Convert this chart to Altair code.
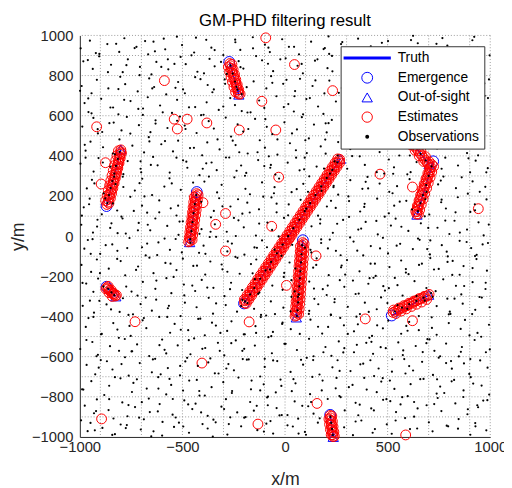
import altair as alt
import pandas as pd
import numpy as np

FONT = "Liberation Sans, Arial, Helvetica, sans-serif"
KINDS = ["Truth", "Emergence", "Out-of-sight", "Estimates", "Observations"]

# ---- true target tracks (start, end) ----
truth_tracks = {
    "A": [(-270, 865), (-225, 705)],
    "B": [(-870, 150), (-800, 432)],
    "C": [(-430, 220), (-465, -30)],
    "D": [(-870, -255), (-825, -300)],
    "E": [(-200, -335), (270, 385)],
    "F": [(87, -20), (55, -405)],
    "G": [(220, -890), (235, -1000)],
    "H": [(520, -395), (700, -295)],
    "I1": [(440, 700), (702, 358)],
    "I2": [(722, 373), (643, 107)],
}
emergence = [(-272, 868), (-870, 150), (-430, 220), (-870, -252), (-200, -335),
             (87, -20), (220, -890), (520, -395), (722, 373), (440, 700)]
out_of_sight = [(-225, 705), (-800, 432), (-465, -30), (-825, -300), (270, 385),
                (55, -405), (235, -1000), (700, -292), (702, 358), (643, 107)]

# ---- filter estimates ----
est_A = [(-269,860),(-266,849),(-262,836),(-259,824),(-256,812),(-251,800),(-249,789),(-245,776),
         (-241,764),(-238,752),(-234,740),(-231,728),(-228,716),(-226,708),
         (-259,856),(-276,843),(-253,830),(-270,818),(-246,805),(-263,793),(-240,780),(-256,768),
         (-233,755),(-249,743),(-226,730),(-241,718),(-219,708)]
est_B = [(-868,158),(-863,170),(-861,183),(-856,195),(-855,208),(-850,220),(-846,233),(-845,246),
         (-840,258),(-837,270),(-835,283),(-830,295),(-828,308),(-824,320),(-822,333),(-818,345),
         (-815,357),(-812,370),(-810,383),(-806,395),(-804,408),(-801,420),(-800,430),
         (-858,164),(-874,177),(-851,189),(-867,202),(-845,214),(-861,227),(-839,239),(-855,252),
         (-833,264),(-849,277),(-827,289),(-843,302),(-821,314),(-837,327),(-815,339),(-831,352),
         (-809,364),(-825,377),(-803,389),(-819,402),(-797,414),(-812,425)]
est_C = [(-431,212),(-434,200),(-434,187),(-437,175),(-438,162),(-441,150),(-441,137),(-444,125),
         (-446,112),(-447,100),(-449,87),(-450,75),(-452,62),(-453,50),(-455,37),(-457,25),
         (-458,12),(-460,0),(-461,-12),(-463,-24),
         (-424,206),(-442,194),(-427,181),(-445,169),(-430,156),(-448,144),(-433,131),(-451,119),
         (-436,106),(-454,94),(-440,81),(-458,69),(-443,56),(-461,44),(-446,31),(-464,19),
         (-450,6),(-467,-6),(-453,-18),(-470,-28)]
est_D = [(-868,-256),(-862,-262),(-856,-269),(-850,-275),(-844,-281),(-838,-287),(-832,-293),(-827,-298),
         (-862,-250),(-873,-262),(-848,-268),(-858,-281),(-834,-285),(-842,-300),(-822,-294)]
est_E = [(-197,-333),(-195,-322),(-184,-316),(-183,-303),(-171,-296),(-170,-283),(-158,-276),(-157,-263),
         (-145,-256),(-144,-243),(-132,-236),(-131,-223),(-119,-216),(-118,-203),(-106,-196),(-105,-183),
         (-93,-176),(-92,-163),(-80,-156),(-79,-143),(-67,-136),(-66,-123),(-54,-116),(-53,-103),
         (-41,-96),(-40,-83),(-28,-76),(-27,-63),(-15,-56),(-14,-43),(-2,-36),(0,-23),(11,-16),(6,-13),
         (24,-6),(19,7),(31,14),(32,27),(44,34),(45,47),(57,54),(58,67),(70,74),(71,87),(83,94),
         (84,107),(96,114),(97,127),(109,134),(110,147),(122,154),(123,167),(135,174),(136,187),
         (148,194),(149,207),(161,214),(162,227),(174,234),(175,247),(187,254),(188,267),(200,274),
         (201,287),(213,294),(214,307),(226,314),(227,327),(239,334),(240,347),(252,354),(253,367),
         (265,374),(266,383),
         (-189,-335),(-198,-315),(-176,-315),(-185,-295),(-163,-295),(-172,-275),(-150,-275),(-159,-255),
         (-137,-255),(-146,-235),(-124,-235),(-133,-215),(-111,-215),(-120,-195),(-98,-195),(-107,-175),
         (-85,-175),(-94,-155),(-72,-155),(-81,-135),(-59,-135),(-68,-115),(-46,-115),(-55,-95),
         (-33,-95),(-42,-75),(-20,-75),(-29,-55),(-7,-55),(-16,-35),(6,-35),(-3,-15),(19,-15),(10,5),
         (32,5),(23,25),(45,25),(36,45),(58,45),(49,65),(71,65),(62,85),(84,85),(75,105),(97,105),
         (88,125),(110,125),(101,145),(123,145),(114,165),(136,165),(127,185),(149,185),(140,205),
         (162,205),(153,225),(175,225),(166,245),(188,245),(179,265),(201,265),(192,285),(214,285),
         (205,305),(227,305),(218,325),(240,325),(231,345),(253,345),(244,365),(266,365),(257,385)]
est_F = [(86,-32),(83,-44),(84,-57),(81,-69),(82,-82),(79,-94),(80,-107),(77,-119),(78,-132),(75,-144),
         (76,-157),(73,-169),(74,-182),(71,-194),(72,-207),(69,-219),(70,-232),(67,-244),(68,-257),
         (65,-269),(66,-282),(63,-294),(64,-307),(61,-319),(62,-332),(59,-344),(60,-357),(57,-369),
         (58,-382),(56,-394),
         (93,-38),(75,-50),(92,-63),(74,-75),(91,-88),(72,-100),(89,-113),(70,-125),(87,-138),(68,-150),
         (85,-163),(66,-175),(83,-188),(64,-200),(81,-213),(62,-225),(79,-238),(60,-250),(77,-263),
         (58,-275),(75,-288),(56,-300),(73,-313),(54,-325),(71,-338),(52,-350),(69,-363),(50,-375),
         (66,-388),(49,-398)]
est_G = [(220,-893),(222,-905),(223,-917),(225,-929),(226,-941),(228,-953),(229,-965),(231,-977),
         (232,-989),(234,-998),
         (228,-896),(214,-911),(231,-923),(217,-937),(234,-949),(221,-963),(238,-975),(225,-989),(240,-996)]
est_H = [(527,-380),(538,-374),(549,-368),(560,-362),(572,-357),(583,-351),(594,-345),(605,-339),
         (617,-334),(628,-328),(639,-322),(650,-317),(662,-311),(673,-306),(684,-301),(695,-297),
         (529,-368),(541,-385),(555,-358),(566,-373),(579,-346),(591,-362),(604,-334),(616,-350),
         (628,-323),(641,-339),(653,-311),(666,-328),(678,-300),(690,-315),(702,-290)]
est_I1 = [(560,540),(575,521),(590,502),(602,487),(612,474),(622,461),(631,449),(640,437),(649,425),
          (658,413),(667,401),(676,389),(685,377),(693,367),(700,358),
          (575,540),(568,515),(597,510),(593,482),(620,480),(614,455),(641,452),(634,428),(662,425),
          (654,400),(684,396),(676,372),(703,370)]
est_I2 = [(716,356),(711,343),(707,330),(703,317),(699,304),(694,291),(690,278),(686,265),(682,252),
          (678,239),(674,226),(669,213),(665,200),(661,187),(657,174),(653,161),(649,148),(645,135),
          (643,122),(642,110),
          (724,347),(705,340),(715,320),(696,313),(707,293),(687,286),(698,266),(678,259),(690,239),
          (670,232),(681,212),(661,205),(673,185),(653,178),(664,158),(645,151),(656,131),(637,124),(650,110)]
est_false = [(-94,988),(46,855),(-588,775),(-918,545),(-540,583),(-477,583),(-525,534),(-381,564),
             (-223,529),(-113,672),(-45,529),(-875,366),(-896,260),(-400,167),(-290,113),(-338,59),
             (-290,-74),(-31,294),(-65,49),(7,-245),(-175,-427),(-731,-426),(-405,-632),(-132,-936),
             (-894,-910),(156,-833),(588,-990),(391,-412),(621,-421),(151,-98),(463,309),(621,245),
             (942,137),(232,725)]

# ---- observations: detections on the tracks ----
track_obs = [(-195,-325),(-170,-290),(-150,-258),(-121,-212),(-95,-170),(-68,-128),(-40,-85),(-12,-42),
             (15,0),(40,40),(70,82),(96,125),(122,165),(148,205),(176,248),(203,290),(230,330),(255,368),
             (83,-45),(80,-90),(78,-130),(75,-175),(72,-210),(70,-250),(67,-290),(64,-330),(61,-370),(58,-398),
             (-866,165),(-858,205),(-850,240),(-842,275),(-832,312),(-824,350),(-815,385),(-806,420),
             (-433,205),(-440,160),(-446,115),(-451,70),(-456,25),(-462,-15),
             (-266,850),(-255,810),(-244,770),(-232,730),(-862,-262),(-846,-280),(-832,-294),
             (221,-900),(225,-930),(229,-960),(233,-990),(535,-375),(570,-356),(605,-338),(640,-322),(675,-306),
             (714,348),(700,300),(688,255),(672,205),(660,165),(648,125),(632,446),(660,410),(685,377)]

# ---- observations: clutter (read row by row) ----
clutter = [
(-994,-917),(-962,-971),(-948,-930),(-890,-955),(-836,-908),(-829,-986),(-771,-941),(-703,-963),(-688,-912),(-652,-997),(-597,-925),(-541,-950),(-533,-903),(-468,-979),(-402,-936),(-377,-958),(-349,-914),(-281,-988),(-214,-947),(-199,-904),(-135,-966),(-71,-921),(-58,-983),(12,-942),(64,-909),(97,-975),(160,-929),(288,-952),(331,-991),(372,-918),(438,-961),(496,-937),(520,-984),(585,-906),(644,-958),(701,-927),(719,-972),(788,-944),(846,-911),(903,-989),(927,-931),(981,-967),
(-976,-844),(-931,-882),(-917,-813),(-860,-866),(-793,-828),(-768,-897),(-731,-851),(-664,-809),(-620,-873),(-611,-836),(-548,-889),(-491,-818),(-452,-861),(-436,-834),(-377,-895),(-310,-849),(-288,-812),(-233,-878),(-170,-826),(-152,-869),(-87,-803),(-41,-856),(-16,-891),(47,-823),(113,-847),(139,-884),(208,-811),(291,-868),(344,-830),(357,-892),(420,-858),(478,-815),(541,-876),(563,-838),(629,-899),(690,-842),(744,-806),(762,-871),(830,-833),(889,-887),(941,-852),(966,-819),
(-989,-763),(-944,-722),(-881,-791),(-857,-745),(-802,-708),(-746,-776),(-739,-731),(-674,-759),(-618,-702),(-579,-788),(-555,-741),(-497,-769),(-430,-716),(-417,-794),(-358,-752),(-301,-727),(-259,-781),(-227,-704),(-166,-763),(-104,-738),(-83,-799),(-22,-714),(33,-772),(51,-733),(122,-787),(183,-719),(247,-758),(265,-796),(329,-741),(386,-706),(447,-777),(469,-724),(533,-761),(598,-797),(612,-737),(675,-711),(739,-784),(756,-749),(812,-723),(870,-768),(905,-702),(958,-744),(995,-789),
(-967,-641),(-925,-688),(-898,-617),(-841,-664),(-780,-603),(-762,-695),(-708,-632),(-649,-678),(-633,-611),(-571,-657),(-512,-693),(-486,-624),(-425,-646),(-364,-609),(-342,-683),(-276,-637),(-249,-668),(-186,-615),(-121,-699),(-99,-651),(-38,-622),(27,-676),(88,-640),(106,-606),(168,-689),(231,-653),(256,-618),(319,-672),(381,-635),(434,-697),(456,-659),(522,-613),(587,-684),(605,-647),(668,-626),(721,-691),(749,-605),(813,-660),(872,-634),(898,-686),(951,-619),(987,-655),
(-998,-562),(-939,-527),(-912,-591),(-853,-548),(-810,-506),(-748,-574),(-721,-539),(-662,-597),(-599,-515),(-587,-566),(-523,-544),(-461,-588),(-443,-509),(-389,-557),(-327,-531),(-296,-594),(-240,-519),(-208,-571),(-147,-545),(-81,-503),(-64,-583),(-3,-536),(58,-567),(117,-511),(139,-598),(197,-552),(262,-524),(284,-579),(350,-541),(411,-506),(429,-586),(491,-558),(552,-529),(574,-592),(637,-547),(694,-513),(728,-571),(785,-535),(847,-599),(862,-552),(924,-517),(979,-578),
(-971,-452),(-958,-408),(-893,-487),(-837,-433),(-817,-465),(-752,-497),(-694,-419),(-676,-458),(-613,-402),(-560,-481),(-538,-437),(-472,-468),(-413,-411),(-391,-494),(-337,-445),(-282,-472),(-261,-424),(-196,-489),(-144,-448),(-118,-403),(-59,-477),(-12,-431),(28,-463),(124,-416),(181,-485),(210,-452),(269,-407),(336,-474),(355,-439),(424,-497),(477,-459),(503,-421),(566,-486),(591,-447),(652,-468),(715,-404),(739,-491),(798,-433),(856,-462),(877,-417),(938,-482),(994,-441),
(-986,-347),(-931,-381),(-905,-322),(-848,-365),(-790,-309),(-763,-392),(-704,-338),(-649,-371),(-628,-316),(-571,-359),(-509,-398),(-488,-331),(-431,-354),(-372,-307),(-351,-386),(-289,-343),(-234,-376),(-208,-318),(-151,-362),(-92,-395),(-69,-325),(-8,-356),(31,-302),(118,-372),(162,-339),(223,-391),(242,-313),(306,-352),(365,-388),(389,-331),(447,-364),(468,-305),(596,-362),(652,-398),(739,-348),(791,-311),(803,-376),(866,-336),(927,-367),(948,-303),(997,-354),
(-969,-236),(-934,-277),(-911,-211),(-774,-251),(-719,-296),(-693,-228),(-632,-262),(-578,-209),(-554,-284),(-493,-241),(-438,-273),(-406,-218),(-349,-257),(-295,-299),(-263,-232),(-209,-268),(-147,-214),(-125,-281),(-62,-246),(-6,-203),(47,-275),(118,-226),(141,-261),(203,-293),(267,-219),(289,-252),(344,-288),(406,-237),(431,-207),(487,-271),(548,-244),(573,-296),(631,-224),(689,-258),(712,-283),(771,-215),(833,-247),(859,-290),(914,-229),(977,-263),
(-992,-143),(-945,-178),(-917,-116),(-859,-162),(-801,-124),(-779,-195),(-716,-151),(-661,-107),(-641,-184),(-583,-133),(-529,-169),(-498,-112),(-447,-148),(-389,-191),(-364,-126),(-305,-165),(-242,-103),(-221,-187),(-166,-139),(-140,-116),(-4,-183),(22,-131),(137,-157),(154,-111),(213,-194),(276,-146),(302,-119),(363,-175),(417,-137),(442,-198),(509,-154),(566,-121),(589,-181),(653,-143),(708,-109),(726,-166),(792,-128),(851,-192),(870,-149),(933,-114),(984,-172),
(-978,-62),(-961,-19),(-901,-88),(-842,-41),(-817,-73),(-758,-9),(-697,-55),(-679,-96),(-617,-31),(-561,-68),(-533,-14),(-419,-83),(-397,-47),(-336,-3),(-281,-76),(-259,-37),(-198,-92),(-137,-58),(-112,-21),(-51,-67),(-17,-98),(35,-43),(128,-81),(176,-16),(209,-61),(271,-95),(334,-27),(352,-72),(418,-49),(477,-8),(502,-86),(561,-38),(623,-64),(648,-12),(706,-91),(764,-45),(788,-77),(851,-23),(907,-59),(926,-99),(989,-34),
(-993,57),(-936,18),(-914,82),(-852,41),(-797,97),(-776,13),(-713,66),(-657,29),(-632,88),(-574,51),(-519,7),(-498,74),(-407,35),(-361,94),(-342,59),(-284,22),(-227,79),(-201,44),(-142,3),(-86,68),(-63,31),(-5,91),(129,49),(172,84),(233,17),(254,62),(312,96),(371,38),(393,71),(452,9),(516,53),(539,87),(601,26),(662,64),(681,99),(743,42),(801,11),(826,77),(887,33),(943,69),(968,4),
(-981,144),(-952,187),(-893,109),(-839,163),(-818,128),(-754,196),(-697,152),(-672,117),(-613,178),(-557,139),(-529,103),(-408,171),(-347,126),(-321,189),(-266,148),(-208,112),(-184,167),(-127,134),(-66,193),(-41,119),(18,158),(76,181),(103,137),(161,102),(224,176),(247,141),(309,198),(366,123),(388,161),(449,187),(506,114),(532,152),(591,176),(619,133),(703,108),(761,169),(784,138),(842,194),(903,121),(925,159),(982,183),
(-966,238),(-941,281),(-884,213),(-826,259),(-791,296),(-732,227),(-709,264),(-648,205),(-588,247),(-563,288),(-508,231),(-393,272),(-331,218),(-309,256),(-247,293),(-193,236),(-171,209),(-112,268),(-51,244),(-29,287),(32,219),(89,261),(118,298),(178,226),(237,251),(259,207),(318,279),(377,236),(402,295),(461,262),(524,214),(546,249),(607,284),(689,221),(746,258),(772,297),(833,239),(891,212),(914,273),(976,246),
(-997,361),(-933,322),(-909,389),(-851,347),(-788,309),(-767,374),(-704,336),(-643,395),(-621,353),(-562,317),(-497,378),(-476,341),(-417,304),(-358,367),(-333,329),(-272,392),(-214,352),(-189,315),(-131,379),(-72,341),(-47,307),(13,366),(71,328),(96,391),(154,347),(219,312),(241,373),(303,336),(364,398),(389,355),(447,319),(506,382),(531,343),(596,308),(641,369),(763,336),(781,391),(843,352),(902,318),(929,376),(988,339),
(-972,426),(-948,471),(-887,443),(-829,408),(-807,482),(-744,451),(-687,417),(-664,493),(-603,458),(-546,422),(-521,476),(-463,439),(-404,403),(-379,467),(-319,432),(-263,496),(-241,454),(-182,412),(-123,478),(-98,441),(-37,406),(24,463),(53,428),(116,487),(174,447),(198,411),(259,469),(318,434),(341,498),(403,457),(461,419),(487,482),(549,445),(608,402),(682,471),(741,437),(768,492),(826,455),(887,414),(909,479),(968,442),
(-988,546),(-934,589),(-912,512),(-856,563),(-797,527),(-771,594),(-712,553),(-656,518),(-631,577),(-573,539),(-512,596),(-489,551),(-431,514),(-372,573),(-347,536),(-289,591),(-231,557),(-204,521),(-146,584),(-89,545),(-62,508),(-3,567),(58,532),(82,593),(141,556),(203,517),(228,579),(287,544),(349,503),(372,568),(433,531),(492,592),(517,549),(578,513),(637,574),(662,538),(723,597),(781,556),(806,519),(868,583),(929,542),(951,505),
(-977,663),(-958,618),(-896,684),(-838,641),(-812,607),(-753,673),(-692,636),(-669,692),(-609,651),(-551,614),(-526,679),(-468,642),(-409,603),(-382,667),(-323,629),(-267,688),(-244,653),(-183,616),(-126,676),(-101,639),(-42,697),(16,658),(43,621),(104,683),(161,646),(187,609),(248,671),(306,634),(329,693),(391,657),(452,618),(476,681),(538,645),(597,606),(621,668),(682,631),(743,689),(767,652),(828,613),(886,675),(911,638),(973,699),
(-991,748),(-943,712),(-917,779),(-861,736),(-803,794),(-779,757),(-718,721),(-662,786),(-638,743),(-579,706),(-521,768),(-497,731),(-438,792),(-377,753),(-354,717),(-294,781),(-237,744),(-211,708),(-153,771),(-91,736),(-68,797),(-9,759),(49,723),(73,784),(134,748),(192,711),(216,775),(277,738),(336,796),(359,762),(421,727),(481,789),(503,751),(566,714),(627,778),(649,741),(711,704),(769,766),(792,729),(853,791),(914,754),(937,718),(994,781),
(-983,871),(-937,833),(-906,896),(-848,854),(-791,817),(-766,881),(-707,843),(-651,806),(-627,868),(-569,831),(-509,893),(-484,857),(-427,819),(-368,883),(-343,846),(-284,808),(-226,872),(-203,835),(-141,897),(-83,859),(-58,822),(3,886),(61,849),(87,811),(146,874),(207,837),(229,898),(292,862),(351,824),(373,887),(436,851),(494,813),(518,876),(579,839),(641,801),(663,864),(724,828),(783,889),(806,852),(867,815),(928,878),(953,841),
(-996,936),(-951,974),(-922,912),(-866,957),(-808,918),(-783,986),(-724,943),(-667,906),(-641,969),(-584,931),(-527,994),(-502,952),(-443,915),(-384,978),(-359,939),(-301,902),(-242,966),(-218,928),(-157,991),(-98,954),(-74,917),(-14,981),(44,943),(68,906),(127,969),(188,932),(212,995),(273,957),(332,921),(356,984),(418,946),(477,909),(502,972),(563,935),(624,998),(647,961),(708,924),(767,987),(791,949),(852,913),(913,976),(938,938),(997,901),
]

# ---- observations: clutter (read column by column) ----
clutter_cols = [
(-943,612),(-987,-233),(-916,48),(-961,877),(-908,-655),(-972,391),(-934,-402),(-955,159),(-921,-871),(-999,724),(-947,-88),(-913,533),(-968,-517),(-929,263),(-983,-764),(-905,908),(-951,-321),(-938,-15),(-976,455),(-919,-598),(-990,102),(-927,-967),(-959,686),(-902,-184),
(-874,-45),(-812,733),(-857,-812),(-833,296),(-891,519),(-806,-377),(-846,64),(-868,-623),(-823,958),(-885,-251),(-839,412),(-801,-938),(-863,817),(-818,-113),(-897,-489),(-851,641),(-829,-702),(-876,188),(-809,-571),(-842,-990),(-888,367),(-816,15),(-870,-340),(-835,566),
(-748,-276),(-792,88),(-715,634),(-763,-841),(-704,373),(-781,-512),(-733,937),(-769,-59),(-722,-713),(-788,245),(-741,-389),(-709,802),(-776,-956),(-754,511),(-726,-168),(-797,-637),(-737,126),(-711,-904),(-784,679),(-758,-447),(-717,29),(-773,852),(-745,-573),(-701,318),
(-661,472),(-698,-827),(-623,-94),(-685,198),(-612,-543),(-647,736),(-679,-306),(-634,921),(-606,-688),(-669,57),(-641,-972),(-693,604),(-627,-221),(-654,355),(-617,-759),(-688,-408),(-603,843),(-672,-37),(-631,561),(-659,-876),(-696,286),(-644,-614),(-613,119),(-682,972),
(-563,-711),(-529,391),(-587,-12),(-508,-466),(-571,881),(-543,-203),(-596,617),(-517,-929),(-552,263),(-579,-584),(-534,739),(-503,-81),(-566,-347),(-591,984),(-521,152),(-547,-811),(-585,474),(-511,-646),(-558,-137),(-539,858),(-599,-993),(-526,575),(-574,-402),(-514,73),
(-472,-838),(-438,643),(-491,-295),(-417,12),(-456,901),(-403,-561),(-481,371),(-429,-147),(-467,-719),(-412,782),(-496,-948),(-448,267),(-423,-412),(-485,534),(-409,-878),(-461,-33),(-434,989),(-477,-606),(-401,336),(-452,-246),(-488,712),(-418,-771),(-444,440),(-469,-518),
(-371,297),(-324,-684),(-388,-88),(-312,868),(-356,-431),(-397,605),(-338,-927),(-305,149),(-379,-256),(-347,731),(-318,-571),(-363,22),(-391,-794),(-329,482),(-309,-141),(-352,-998),(-384,363),(-336,-335),(-301,646),(-374,-629),(-343,927),(-315,-482),(-367,-4),(-395,811),
(-267,-902),(-223,418),(-281,-177),(-206,-612),(-249,91),(-292,759),(-214,-348),(-258,-771),(-236,326),(-279,-26),(-201,-489),(-243,979),(-286,-659),(-229,184),(-268,-264),(-211,623),(-297,-861),(-255,476),(-232,-108),(-274,-936),(-217,842),(-262,-533),(-240,1),(-288,392),
(-168,617),(-121,-768),(-183,-333),(-106,197),(-149,-56),(-192,-901),(-134,418),(-177,-614),(-112,876),(-158,-185),(-195,301),(-141,-482),(-103,-973),(-187,742),(-126,63),(-163,-719),(-117,-392),(-179,534),(-138,-845),(-101,349),(-156,936),(-199,-561),(-131,-287),(-172,118),
(-67,-498),(-23,881),(-84,-842),(-41,162),(-96,583),(-12,-267),(-58,-619),(-79,398),(-31,-1),(-91,-934),(-6,643),(-49,-388),(-73,-166),(-18,-746),(-62,764),(-88,-55),(-37,482),(-99,-611),(-27,-893),(-54,214),(-81,939),(-14,-437),(-45,-778),(-69,355),
(34,512),(78,-616),(12,-891),(93,333),(51,-161),(7,779),(66,-983),(27,-374),(88,607),(41,-712),(97,-57),(19,943),(72,-487),(57,234),(3,-536),(84,-845),(46,697),(31,-219),(99,478),(63,-302),(15,104),(81,858),(38,-948),(54,391),
(143,-312),(187,-578),(121,688),(169,-907),(106,414),(152,-143),(194,937),(133,-701),(176,-34),(112,221),(161,-451),(198,562),(127,-826),(184,-264),(148,776),(102,-989),(171,63),(137,-617),(190,337),(116,-387),(158,881),(179,-768),(124,-68),(196,481),
(248,-73),(212,563),(287,-444),(231,821),(266,-671),(204,148),(293,-191),(257,402),(226,-596),(279,967),(241,-329),(297,669),(218,-17),(271,-802),(236,244),(289,-558),(208,-246),(262,714),(224,-392),(283,81),(251,-706),(295,489),(215,908),(273,-155),
(367,-638),(312,175),(344,-923),(389,469),(331,-221),(375,711),(306,-487),(357,33),(398,-764),(322,908),(381,-96),(348,-401),(303,612),(364,-839),(393,271),(336,-578),(317,-6),(372,826),(359,-286),(311,-752),(386,146),(340,654),(396,-531),(327,399),
(412,-209),(468,744),(433,-868),(486,97),(421,-526),(457,451),(499,-333),(441,888),(476,-707),(405,238),(463,-61),(491,624),(427,-979),(449,-444),(483,312),(416,-618),(472,963),(438,-137),(494,-812),(453,551),(408,-377),(479,-249),(445,76),(466,-553),
(557,402),(513,-822),(589,-164),(532,669),(576,-569),(508,221),(548,-343),(593,914),(521,-675),(567,47),(539,-918),(584,538),(506,-259),(553,781),(597,-471),(527,311),(571,-802),(544,-47),(516,857),(581,-612),(559,172),(535,-208),(599,639),(511,-719),
(646,-858),(612,319),(689,-533),(631,733),(667,-137),(605,-427),(653,906),(698,41),(624,-669),(676,586),(641,-298),(609,-961),(684,184),(659,-712),(618,467),(693,-64),(637,812),(671,-577),(602,-189),(664,688),(629,-826),(681,-321),(614,977),(656,-18),
(763,182),(716,-457),(789,613),(741,-713),(708,-21),(772,889),(734,-274),(795,-947),(723,441),(756,-598),(781,78),(712,706),(749,-163),(798,-389),(727,-836),(767,531),(738,958),(785,-632),(719,-302),(759,277),(793,-101),(731,814),(776,-781),(704,-514),
(857,-576),(812,797),(873,-248),(831,119),(891,-862),(848,454),(806,-387),(866,932),(824,-716),(885,-29),(839,627),(899,-494),(817,-123),(861,293),(843,-959),(878,714),(809,-622),(852,18),(894,388),(826,-311),(869,-801),(834,542),(887,861),(815,-193),
(941,403),(917,-734),(978,-232),(909,874),(956,-501),(993,58),(928,-947),(967,637),(912,-388),(949,221),(986,-817),(934,-93),(971,761),(903,-612),(959,-306),(922,993),(998,-564),(945,536),(914,-159),(981,318),(937,-842),(963,-41),(926,129),(989,688),
]

# grid positions
grid_x = [-900, -700, -500, -300, -100, 0, 100, 300, 500, 700, 900, 1000]
grid_y = [-900, -800, -700, -600, -500, -400, -300, -200, -100, 0, 100, 200, 300, 400,
          500, 600, 700, 800, 900, 1000]
x_ticks = [-1000, -500, 0, 500, 1000]
y_ticks = [-1000, -800, -600, -400, -200, 0, 200, 400, 600, 800, 1000]

# ---- data frames ----
truth_rows = []
for name, pts in truth_tracks.items():
    for i, (x, y) in enumerate(pts):
        truth_rows.append({"track": name, "order": i, "x": x, "y": y})
truth_df = pd.DataFrame(truth_rows)
est_all = est_A + est_B + est_C + est_D + est_E + est_F + est_G + est_H + est_I1 + est_I2 + est_false
est_df = pd.DataFrame(est_all, columns=["x", "y"])
em_df = pd.DataFrame(emergence, columns=["x", "y"])
oos_df = pd.DataFrame(out_of_sight, columns=["x", "y"])
obs_df = pd.DataFrame(clutter + clutter_cols + track_obs, columns=["x", "y"])
gx_df = pd.DataFrame({"x": grid_x})
gy_df = pd.DataFrame({"y": grid_y})
leg_df = pd.DataFrame({"kind": KINDS, "x": [np.nan] * 5, "y": [np.nan] * 5})

xs = alt.Scale(domain=[-1000, 1000], nice=False, zero=False)
ys = alt.Scale(domain=[-1000, 1000], nice=False, zero=False)
xax = alt.Axis(values=x_ticks, grid=False, ticks=False, tickSize=0, domain=True,
               domainColor="#262626", domainWidth=1, labelFlush=False, labelPadding=3,
               labelFontSize=15, labelFont=FONT, labelColor="#262626", title="x/m",
               titleFontSize=18, titleFont=FONT, titleFontWeight="normal",
               titleColor="#262626", titlePadding=16, format="d")
yax = alt.Axis(values=y_ticks, grid=False, ticks=False, tickSize=0, domain=True,
               domainColor="#262626", domainWidth=1, labelFlush=False, labelPadding=7,
               labelFontSize=15, labelFont=FONT, labelColor="#262626", title="y/m",
               titleFontSize=18, titleFont=FONT, titleFontWeight="normal",
               titleColor="#262626", titlePadding=4, format="d")

def X():
    return alt.X("x:Q", scale=xs, axis=xax)

def Y():
    return alt.Y("y:Q", scale=ys, axis=yax)

GRID = "#9a9a9a"
gridv = alt.Chart(gx_df).mark_rule(color=GRID, strokeWidth=1, strokeDash=[1, 2]).encode(x=X())
gridh = alt.Chart(gy_df).mark_rule(color=GRID, strokeWidth=1, strokeDash=[1, 2]).encode(y=Y())

truth = alt.Chart(truth_df).mark_line(color="#0000ff", strokeWidth=1.6).encode(
    x=X(), y=Y(), detail="track:N", order="order:Q")
emerg = alt.Chart(em_df).mark_point(shape="circle", filled=False, color="#0000ff",
                                    size=121, strokeWidth=1, opacity=1).encode(x=X(), y=Y())
oos = alt.Chart(oos_df).mark_point(shape="triangle-up", filled=False, color="#0000ff",
                                   size=110, strokeWidth=1, opacity=1).encode(x=X(), y=Y())
est = alt.Chart(est_df).mark_point(shape="circle", filled=False, color="#ff0000",
                                   size=100, strokeWidth=1, opacity=1).encode(x=X(), y=Y())
obs = alt.Chart(obs_df).mark_circle(color="#000000", size=5, opacity=1).encode(x=X(), y=Y())

TRUTH_PATH = "M-4.8,0H4.8"
legend_layer = alt.Chart(leg_df).mark_point(filled=False, opacity=1).encode(
    x=X(), y=Y(),
    color=alt.Color("kind:N", title=None,
                    scale=alt.Scale(domain=KINDS,
                                    range=["#0000ff", "#0000ff", "#0000ff", "#ff0000", "#000000"])),
    shape=alt.Shape("kind:N", title=None,
                    scale=alt.Scale(domain=KINDS,
                                    range=[TRUTH_PATH, "circle", "triangle-up", "circle", "circle"])),
    size=alt.Size("kind:N", title=None,
                  scale=alt.Scale(type="ordinal", domain=KINDS, range=[100, 121, 110, 110, 4])),
    strokeWidth=alt.StrokeWidth("kind:N", title=None,
                                scale=alt.Scale(type="ordinal", domain=KINDS, range=[3, 1, 1, 1, 2])),
)

chart = alt.layer(gridv, gridh, truth, emerg, oos, est, obs, legend_layer).properties(
    width=417, height=408,
    title=alt.TitleParams("GM-PHD filtering result", fontSize=17, fontWeight="normal", font=FONT,
                          color="#000000", offset=4, dy=5, anchor="middle", frame="group"),
    autosize=alt.AutoSizeParams(type="none"),
    padding={"left": 73, "top": 24, "right": 14, "bottom": 48},
).configure_view(stroke=None).configure_legend(
    orient="none", legendX=265, legendY=11, direction="vertical",
    fillColor="#ffffff", strokeColor="#333333", padding=5, rowPadding=5,
    symbolOffset=15, labelOffset=24, labelFontSize=14, labelFont=FONT, labelColor="#000000",
    labelLimit=200,
)

chart.save("out.html", embed_options={"renderer": "svg", "actions": False})
